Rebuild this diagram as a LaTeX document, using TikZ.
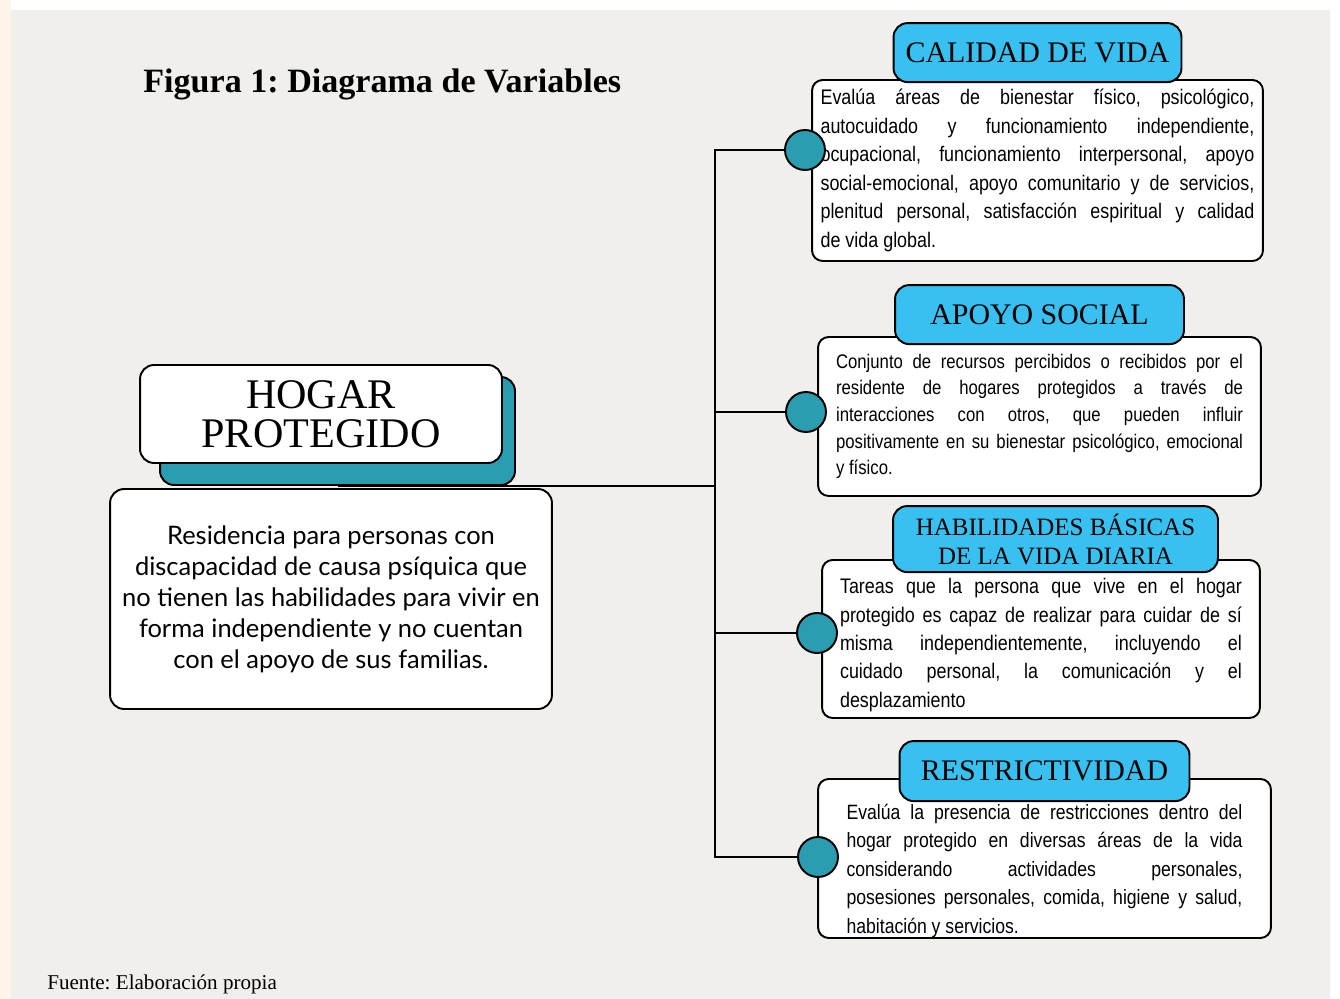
\documentclass[tikz,border=0pt]{standalone}
\usepackage{fontspec}
\setmainfont{Liberation Serif}
\newfontfamily\condfont[FakeStretch=0.85]{Liberation Sans}
\newfontfamily\roundfont{Lato}
\usetikzlibrary{positioning, backgrounds}
\definecolor{PaperGrey}{RGB}{240,239,235}
\definecolor{PeachEdge}{RGB}{253,245,234}
\definecolor{TealDot}{RGB}{42,157,176}
\definecolor{SkyTitle}{RGB}{56,192,240}
\pgfdeclarelayer{paper}
\pgfsetlayers{paper,background,main}
\tolerance=10000
\hyphenpenalty=10000
\frenchspacing

\begin{document}
\begin{tikzpicture}[x=0.02cm, y=-0.02cm,
  descbox/.style={draw, fill=white, rounded corners=6pt, line width=1.1pt,
                  align=justify, inner ysep=0pt},
  titlebox/.style={draw, fill=SkyTitle, rounded corners=8pt, line width=1.1pt,
                   align=center, inner sep=0pt, font=\fontsize{17}{19}\selectfont},
  joint/.style={circle, draw, fill=TealDot, line width=1.1pt,
                minimum size=0.8cm, inner sep=0pt},
  link/.style={line width=1.1pt}]

  % paper
  \begin{pgfonlayer}{paper}
    \fill[white] (0,0) rectangle (1340,999);
    \fill[PeachEdge] (0,0) rectangle (11,999);
    \fill[PaperGrey] (11,10) rectangle (1330,999);
  \end{pgfonlayer}
  \useasboundingbox (0,0) rectangle (1340,999);

  \node[anchor=base west, inner sep=0pt, font=\bfseries\fontsize{19.4}{24}\selectfont] (fig)
    at (143,93) {Figura 1: Diagrama de Variables};
  \node[anchor=base west, inner sep=0pt, font=\fontsize{12}{14}\selectfont] (src)
    at (47,990) {Fuente: Elaboración propia};

  % left side
  \node[draw, fill=TealDot, rounded corners=8pt, line width=1.1pt,
        minimum width=7.1cm, minimum height=2.16cm] (hogarsh) at (337.5,431) {};
  \node[draw, fill=white, rounded corners=8pt, line width=1.1pt,
        minimum width=7.24cm, minimum height=1.96cm, align=center,
        font=\fontsize{24}{22}\selectfont] (hogar) at (321,414) {HOGAR\\PROTEGIDO};
  \node[descbox, align=center, rounded corners=8pt, minimum width=8.84cm, minimum height=4.4cm,
        font=\roundfont\fontsize{14.5}{17.6}\selectfont] (hdesc) at (331,599)
    {Residencia para personas con\\
     discapacidad de causa psíquica que\\
     no tienen las habilidades para vivir en\\
     forma independiente y no cuentan\\
     con el apoyo de sus familias.};

  % right side
  \node[descbox, text width=8.68cm, inner xsep=0.17cm, minimum height=3.62cm,
        font=\condfont\fontsize{12}{16.2}\selectfont] (cal) at (1037.5,170.5)
    {Evalúa áreas de bienestar físico, psicológico,\linebreak
     autocuidado y funcionamiento independiente,\linebreak
     ocupacional, funcionamiento interpersonal, apoyo\linebreak
     social-emocional, apoyo comunitario y de servicios,\linebreak
     plenitud personal, satisfacción espiritual y calidad\linebreak
     de vida global.};
  \node[descbox, text width=8.14cm, inner xsep=0.36cm, minimum height=3.18cm,
        font=\condfont\fontsize{11.2}{15.2}\selectfont] (apo) at (1039.5,416.5)
    {Conjunto de recursos percibidos o recibidos por el\linebreak
     residente de hogares protegidos a través de\linebreak
     interacciones con otros, que pueden influir\linebreak
     positivamente en su bienestar psicológico, emocional\linebreak
     y físico.};
  \node[descbox, text width=8.04cm, inner xsep=0.36cm, minimum height=3.16cm,
        text height=0.55cm, font=\condfont\fontsize{12}{16.1}\selectfont] (hab) at (1041,639)
    {Tareas que la persona que vive en el hogar\linebreak
     protegido es capaz de realizar para cuidar de sí\linebreak
     misma independientemente, incluyendo el\linebreak
     cuidado personal, la comunicación y el\linebreak
     desplazamiento};
  \node[descbox, text width=7.92cm, inner xsep=0.57cm, minimum height=3.18cm,
        text height=0.8cm, font=\condfont\fontsize{11.8}{16.2}\selectfont] (res) at (1044.5,858.5)
    {Evalúa la presencia de restricciones dentro del\linebreak
     hogar protegido en diversas áreas de la vida\linebreak
     considerando actividades personales,\linebreak
     posesiones personales, comida, higiene y salud,\linebreak
     habitación y servicios.};

  \node[titlebox, minimum width=5.76cm, minimum height=1.18cm, above=-0.08cm of cal] (calt)
    {CALIDAD DE VIDA};
  \node[titlebox, minimum width=5.78cm, minimum height=1.18cm, above=-0.18cm of apo] (apot)
    {APOYO SOCIAL};
  \node[titlebox, minimum width=6.5cm, minimum height=1.32cm, above=-0.28cm of hab,
        xshift=0.29cm, font=\fontsize{14.2}{16.4}\selectfont] (habt)
    {HABILIDADES BÁSICAS\\DE LA VIDA DIARIA};
  \node[titlebox, minimum width=5.8cm, minimum height=1.2cm, above=-0.48cm of res] (rest)
    {RESTRICTIVIDAD};

  \node[joint] (j1) at (805,150) {};
  \node[joint] (j2) at (806,412) {};
  \node[joint] (j3) at (817,633) {};
  \node[joint] (j4) at (818,857) {};

  \coordinate (ttop) at (715,150);
  \coordinate (tbot) at (715,857);

  \begin{scope}[on background layer]
    \draw[link] (j1) -- (ttop) -- (tbot) -- (j4);
    \draw[link] (j2) -- (j2 -| ttop);
    \draw[link] (j3) -- (j3 -| ttop);
    \draw[link] (hogarsh.south) -- (hogarsh.south -| ttop);
  \end{scope}
\end{tikzpicture}
\end{document}
